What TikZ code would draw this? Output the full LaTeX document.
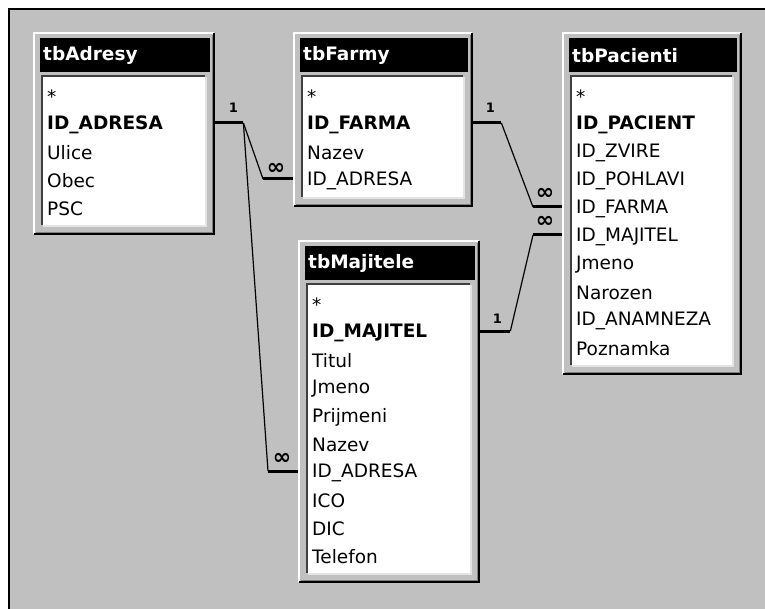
\documentclass[tikz,border=0pt]{standalone}
\usepackage{fontspec}
\setmainfont{DejaVu Sans}
\usetikzlibrary{positioning}

\definecolor{wingray}{HTML}{C0C0C0}
\definecolor{windark}{HTML}{808080}
\definecolor{winlight}{HTML}{E4E4E4}

% one table window: name, left, top, width, rows, title, fields
\newcommand{\dbtable}[7]{%
  \pgfmathsetmacro{\tabh}{28*#5+63}
  \pgfmathsetmacro{\headw}{#4-12}
  \pgfmathsetmacro{\listw}{#4-20}
  \pgfmathsetmacro{\listh}{\tabh-55}
  \node[frame, minimum width=#4pt, minimum height=\tabh pt, anchor=north west] (#1) at (#2,#3) {};
  % raised border
  \draw[white, line width=2pt] ([shift={(1,-1)}]#1.south west) -- ([shift={(1,1)}]#1.north west) -- ([shift={(-1,1)}]#1.north east);
  \draw[black, line width=2pt] ([shift={(1,-1)}]#1.south west) -- ([shift={(-1,-1)}]#1.south east) -- ([shift={(-1,1)}]#1.north east);
  \draw[windark, line width=1pt] ([shift={(3,-2.5)}]#1.south west) -- ([shift={(-2.5,-2.5)}]#1.south east) -- ([shift={(-2.5,3)}]#1.north east);
  % title bar
  \node[titlebar, text width=\headw pt - 6pt, anchor=north west] (#1-head) at ([shift={(7,6)}]#1.north west) {#6};
  % field list
  \node[listbox, minimum width=\listw pt, minimum height=\listh pt, anchor=north west] (#1-list) at ([shift={(10,45)}]#1.north west) {};
  \draw[black!75, line width=2pt] ([shift={(-1,0)}]#1-list.south west) -- ([shift={(-1,-1)}]#1-list.north west) -- ([shift={(0,-1)}]#1-list.north east);
  \draw[winlight, line width=2pt] ([shift={(0,1)}]#1-list.south west) -- ([shift={(1,1)}]#1-list.south east) -- ([shift={(1,0)}]#1-list.north east);
  \foreach \f [count=\i from 0] in {#7}
    \node[field] (#1-\i) at ([shift={(4,20+28*\i)}]#1-list.north west) {\f};
}

\begin{document}
\begin{tikzpicture}[x=1pt, y=-1pt,
  frame/.style={fill=wingray, inner sep=0pt},
  titlebar/.style={fill=black, text=white, font=\fontsize{18.5}{20}\selectfont\bfseries,
    minimum height=34pt, inner xsep=3pt, inner ysep=0pt, align=left},
  listbox/.style={fill=white, inner sep=0pt},
  field/.style={font=\fontsize{18.5}{20}\selectfont, inner sep=0pt, anchor=west},
  stub/.style={line width=3pt},
  link/.style={line width=1.2pt},
  one/.style={font=\fontsize{13}{13}\selectfont\bfseries, inner sep=0pt},
  many/.style={font=\fontsize{22}{22}\selectfont\bfseries, inner sep=0pt}]
\useasboundingbox (0,0) rectangle (765,609);
% background and window edge
\fill[white] (0,0) rectangle (765,609);
\fill[wingray] (9,9) rectangle (765,609);
\draw[line width=2pt] (9,609) -- (9,9) -- (765,9);

% tables
\dbtable{adresy}{33}{32}{182}{5}{tbAdresy}{*,\textbf{ID\_ADRESA},Ulice,Obec,PSC}
\dbtable{farmy}{293}{32}{180}{4}{tbFarmy}{*,\textbf{ID\_FARMA},Nazev,ID\_ADRESA}
\dbtable{pacienti}{562}{32}{180}{10}{tbPacienti}{*,\textbf{ID\_PACIENT},ID\_ZVIRE,ID\_POHLAVI,ID\_FARMA,ID\_MAJITEL,Jmeno,Narozen,ID\_ANAMNEZA,Poznamka}
\dbtable{majitele}{298}{240}{182}{10}{tbMajitele}{*,\textbf{ID\_MAJITEL},Titul,Jmeno,Prijmeni,Nazev,ID\_ADRESA,ICO,DIC,Telefon}

% ends on the "1" side
\coordinate (adr-r) at ([yshift=2pt]adresy.east |- adresy-1);
\coordinate (adr-out) at ([xshift=28pt]adr-r);
\coordinate (far-r) at ([yshift=2pt]farmy.east |- farmy-1);
\coordinate (far-out) at ([xshift=28pt]far-r);
\coordinate (maj-r) at ([yshift=2pt]majitele.east |- majitele-1);
\coordinate (maj-out) at ([xshift=30pt]maj-r);

% ends on the "many" side
\coordinate (far-l) at ([yshift=2pt]farmy.west |- farmy-3);
\coordinate (far-in) at ([xshift=-30pt]far-l);
\coordinate (maj-l) at ([yshift=2pt]majitele.west |- majitele-6);
\coordinate (maj-in) at ([xshift=-30pt]maj-l);
\coordinate (pac-l4) at ([yshift=2pt]pacienti.west |- pacienti-4);
\coordinate (pac-in4) at ([xshift=-29pt]pac-l4);
\coordinate (pac-l5) at ([yshift=2pt]pacienti.west |- pacienti-5);
\coordinate (pac-in5) at ([xshift=-29pt]pac-l5);

% stubs
\draw[stub] (adr-r) -- (adr-out);
\draw[stub] (far-r) -- (far-out);
\draw[stub] (maj-r) -- (maj-out);
\draw[stub] (far-in) -- (far-l);
\draw[stub] (maj-in) -- (maj-l);
\draw[stub] (pac-in4) -- (pac-l4);
\draw[stub] (pac-in5) -- (pac-l5);

% relations
\draw[link] (adr-out) -- (far-in);
\draw[link] (adr-out) -- (maj-in);
\draw[link] (far-out) -- (pac-in4);
\draw[link] (maj-out) -- (pac-in5);

% cardinality labels
\node[one] (adr-one) at ([shift={(-10,-15)}]adr-out) {1};
\node[one] (far-one) at ([shift={(-11,-15)}]far-out) {1};
\node[one] (maj-one) at ([shift={(-13,-12)}]maj-out) {1};
\node[many] (far-many) at ([shift={(13,-10)}]far-in) {∞};
\node[many] (maj-many) at ([shift={(14,-12)}]maj-in) {∞};
\node[many] (pac-many4) at ([shift={(12,-13)}]pac-in4) {∞};
\node[many] (pac-many5) at ([shift={(12,-13)}]pac-in5) {∞};
\end{tikzpicture}
\end{document}
